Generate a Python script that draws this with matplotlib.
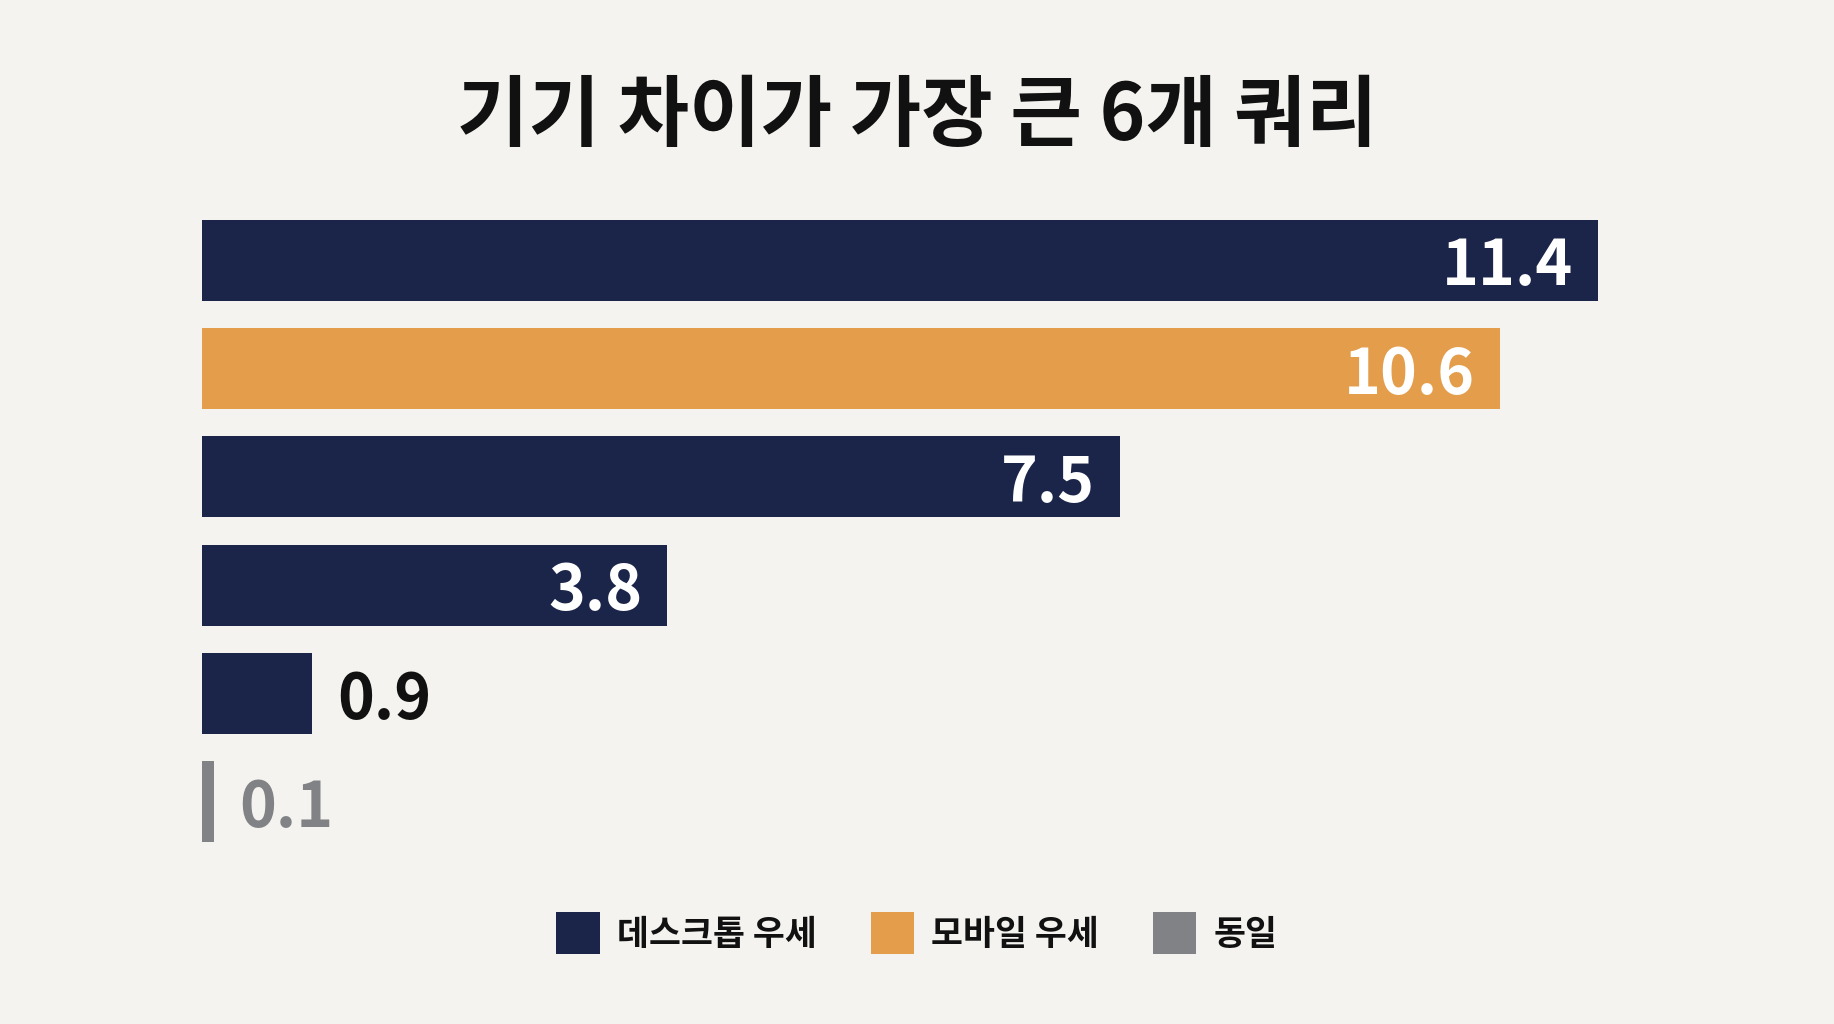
import matplotlib
matplotlib.use("Agg")
import matplotlib.pyplot as plt
from matplotlib.patches import Patch

plt.rcParams['font.family'] = ['Noto Sans CJK KR', 'DejaVu Sans']

title = "기기 차이가 가장 큰 6개 쿼리"
values = [11.4, 10.6, 7.5, 3.8, 0.9, 0.1]
groups = ["desktop", "mobile", "desktop", "desktop", "desktop", "same"]
group_labels = {"desktop": "데스크톱 우세", "mobile": "모바일 우세", "same": "동일"}
group_colors = {"desktop": "#1b2449", "mobile": "#e39d4b", "same": "#808285"}
outside_text_colors = {"desktop": "#111111", "mobile": "#111111", "same": "#808285"}

bg = "#f4f3ef"
W, H = 1834, 1024
fig = plt.figure(figsize=(W / 100, H / 100), dpi=100, facecolor=bg)

left_px, right_px = 202, 202 + 1396 / 11.4 * 12
top_px, bottom_px = 206, 856
ax = fig.add_axes([left_px / W, 1 - bottom_px / H, (right_px - left_px) / W, (bottom_px - top_px) / H])
ax.set_facecolor(bg)

ypos = list(range(len(values)))
colors = [group_colors[g] for g in groups]
ax.barh(ypos, values, height=0.745, color=colors, edgecolor="none")
ax.set_xlim(0, 12)
ax.set_ylim(len(values) - 0.5, -0.5)
ax.axis("off")

for y, v, g in zip(ypos, values, groups):
    label = f"{v:.1f}"
    if v > 2:
        ax.annotate(label, (v, y), xytext=(-25, 0), textcoords="offset pixels",
                    ha="right", va="center_baseline", color="white",
                    fontsize=45, fontweight="heavy")
    else:
        ax.annotate(label, (v, y), xytext=(25, 0), textcoords="offset pixels",
                    ha="left", va="center_baseline", color=outside_text_colors[g],
                    fontsize=45, fontweight="heavy")

fig.text(0.5, 1 - 117 / H, title, ha="center", va="center", fontsize=56,
         fontweight="heavy", color="#111111")

order = ["desktop", "mobile", "same"]
handles = [Patch(facecolor=group_colors[k], edgecolor="none", label=group_labels[k]) for k in order]
leg = fig.legend(handles=handles, loc="center", bbox_to_anchor=(0.5, 1 - 933 / H), ncol=3,
                 frameon=False, prop={"size": 25, "weight": "heavy"},
                 handlelength=1.25, handleheight=1.45, handletextpad=0.5,
                 columnspacing=1.55)
for t in leg.get_texts():
    t.set_color("#111111")

fig.savefig("out.png", dpi=100, facecolor=bg)
